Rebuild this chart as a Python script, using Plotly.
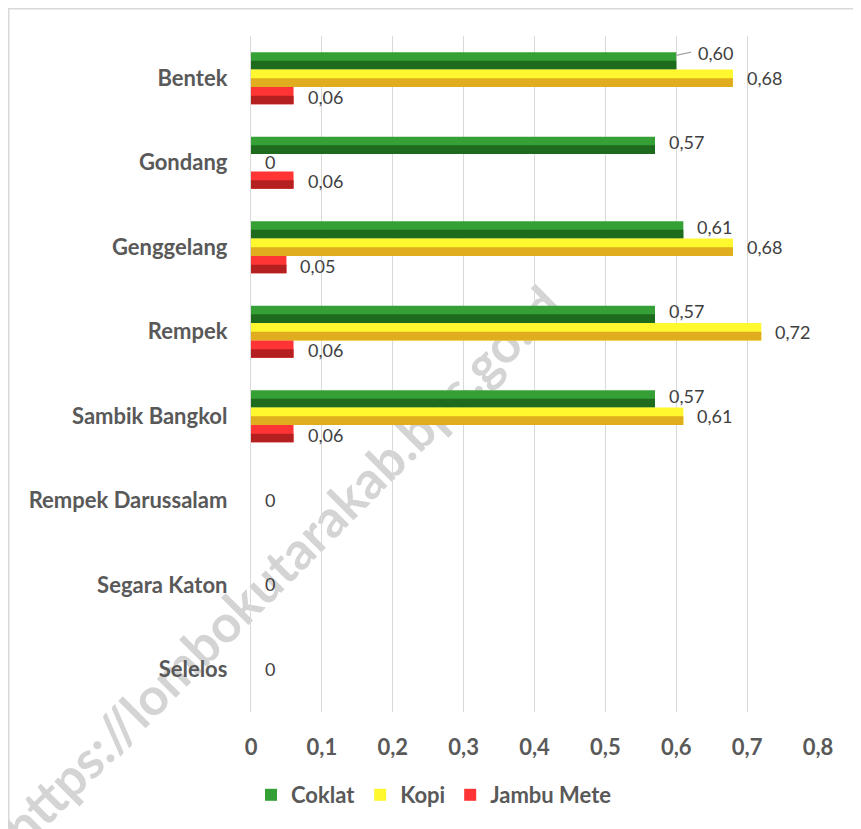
import plotly.graph_objects as go

categories = ["Bentek", "Gondang", "Genggelang", "Rempek", "Sambik Bangkol",
              "Rempek Darussalam", "Segara Katon", "Selelos"]
coklat = [0.60, 0.57, 0.61, 0.57, 0.57, 0, 0, 0]
kopi = [0.68, 0, 0.68, 0.72, 0.61, 0, 0, 0]
jambu_mete = [0.06, 0.06, 0.05, 0.06, 0.06, 0, 0, 0]
x_ticks = [0, 0.1, 0.2, 0.3, 0.4, 0.5, 0.6, 0.7, 0.8]
x_ticklabels = ["0", "0,1", "0,2", "0,3", "0,4", "0,5", "0,6", "0,7", "0,8"]

# name, values, light (upper) colour, dark (lower) colour
series = [
    ("Coklat", coklat, "#35A035", "#1E6B1E"),
    ("Kopi", kopi, "#FFF82E", "#E0AD1E"),
    ("Jambu Mete", jambu_mete, "#FF3535", "#B42020"),
]

W, H = 853, 821          # page body has an 8px margin
ML, MR, MT, MB = 243, 43, 28, 117
PW, PH = W - ML - MR, H - MT - MB
OFF = 8

def px_to_paper(px, py):
    """page pixel -> paper coords"""
    fx, fy = px - OFF, py - OFF
    return (fx - ML) / PW, (MT + PH - fy) / PH

BAR_W = 0.206
GROUP_START = -1.5 * BAR_W

FONT = "Lato, sans-serif"

fig = go.Figure()
for k, (name, vals, light, dark) in enumerate(series):
    off = GROUP_START + k * BAR_W
    fig.add_trace(go.Bar(
        y=categories, x=vals, name=name, orientation="h",
        offset=off, width=BAR_W,
        marker=dict(color=light, line=dict(width=0)),
        hoverinfo="skip", legendgroup=name,
    ))
    fig.add_trace(go.Bar(
        y=categories, x=vals, name=name, orientation="h",
        offset=off + BAR_W * 0.5, width=BAR_W * 0.5,
        marker=dict(color=dark, line=dict(width=0)),
        hoverinfo="skip", legendgroup=name, showlegend=False,
    ))

def fmt(v):
    return "0" if v == 0 else f"{v:.2f}".replace(".", ",")

annotations = []
bar_px = BAR_W * PH / len(categories)
for si, (name, vals, light, dark) in enumerate(series):
    for ci, v in enumerate(vals):
        if v == 0 and name != "Kopi":
            continue
        yshift = {0: bar_px + 3, 1: 0, 2: -bar_px - 1}[si]
        xshift = 12
        if si == 0 and ci == 0:
            yshift = bar_px + 8
            xshift = 20
        if v == 0:
            yshift = 1
        annotations.append(dict(
            x=v, y=categories[ci], xref="x", yref="y", text=fmt(v),
            showarrow=False, xanchor="left", yanchor="middle",
            xshift=xshift, yshift=yshift,
            font=dict(family=FONT, size=18, color="#404040"),
        ))

wx0, wy0 = px_to_paper(8, 836)
wx1, wy1 = px_to_paper(552, 292)
bx0, by0 = px_to_paper(8.75, 8.75)
bx1, by1 = px_to_paper(880, 850)

fig.update_layout(
    width=W, height=H,
    margin=dict(l=ML, r=MR, t=MT, b=MB),
    paper_bgcolor="white", plot_bgcolor="white",
    barmode="overlay",
    separators=",.",
    showlegend=True,
    legend=dict(orientation="h", x=px_to_paper(434, 0)[0], xanchor="center",
                y=px_to_paper(0, 795)[1], yanchor="middle",
                font=dict(family=FONT, size=22, color="#595959", weight="bold"),
                itemwidth=30, traceorder="normal"),
    annotations=annotations,
    shapes=[
        dict(type="rect", xref="paper", yref="paper",
             x0=bx0, x1=bx1, y0=by1, y1=by0,
             line=dict(color="#D9D9D9", width=1.5), layer="below"),
        # leader line of the Bentek / Coklat label
        dict(type="line", xref="x", yref="y",
             x0=coklat[0], y0=-0.27, x1=coklat[0] + 0.021, y1=-0.31,
             line=dict(color="#A6A6A6", width=1.2), layer="above"),
        dict(type="line", xref="paper", yref="paper",
             x0=wx0, y0=wy0, x1=wx1, y1=wy1,
             line=dict(color="rgba(0,0,0,0)", width=0), layer="between",
             label=dict(text="https://lombokutarakab.bps.go.id",
                        textposition="middle", yanchor="middle",
                        font=dict(family=FONT, size=52, color="#D4D4D4",
                                  weight="bold"))),
    ],
)
fig.update_xaxes(
    range=[0, 0.8], tickvals=x_ticks, ticktext=x_ticklabels,
    showgrid=True, gridcolor="#D9D9D9", gridwidth=1.3, zeroline=False,
    showline=False, ticks="outside", ticklen=16, tickcolor="rgba(0,0,0,0)",
    tickfont=dict(family=FONT, size=22, color="#595959", weight="bold"),
)
fig.update_yaxes(
    autorange="reversed", categoryorder="array", categoryarray=categories,
    showgrid=False, showline=True, linecolor="#D9D9D9", linewidth=1.3,
    ticks="outside", ticklen=18, tickcolor="rgba(0,0,0,0)",
    tickfont=dict(family=FONT, size=22, color="#595959", weight="bold"),
)

fig.write_html("out.html")
